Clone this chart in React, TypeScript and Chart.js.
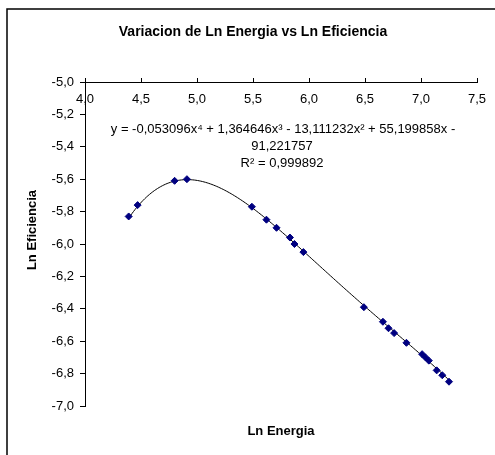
import React, { useEffect, useRef } from "react";
import { Chart, registerables } from "chart.js";

Chart.register(...registerables);

const TITLE = "Variacion de Ln Energia vs Ln Eficiencia";
const X_TITLE = "Ln Energia";
const Y_TITLE = "Ln Eficiencia";

const LN_ENERGIA = [4.39, 4.47, 4.8, 4.91, 5.49, 5.62, 5.71, 5.83, 5.87, 5.95, 6.49, 6.66, 6.71, 6.76, 6.87, 7.01, 7.04, 7.07, 7.14, 7.19, 7.25];
const LN_EFICIENCIA = [-5.83, -5.76, -5.61, -5.6, -5.77, -5.85, -5.9, -5.96, -6.0, -6.05, -6.39, -6.48, -6.52, -6.55, -6.61, -6.68, -6.7, -6.72, -6.78, -6.81, -6.85];

// polynomial trendline coefficients a0..a4 as printed on the chart
const TREND_COEFFS = [-91.221757, 55.199858, -13.111232, 1.364646, -0.053096];
const EQUATION_LINES = [
  "y = -0,053096x⁴ + 1,364646x³ - 13,111232x² + 55,199858x -",
  "91,221757",
  "R² = 0,999892",
];

const X_MIN = 4;
const X_MAX = 7.5;
const X_STEP = 0.5;
const Y_MIN = -7;
const Y_MAX = -5;
const Y_STEP = 0.2;

const FONT = "'Liberation Sans', Arial, Helvetica, sans-serif";
const fmt = (v: number) => Number(v).toFixed(1).replace(".", ",");

const decorPlugin = {
  id: "decor",
  beforeDraw(chart: any) {
    const ctx = chart.ctx;
    ctx.save();
    ctx.fillStyle = "#ffffff";
    ctx.fillRect(0, 0, chart.width, chart.height);
    ctx.restore();
  },
  beforeDatasetsDraw(chart: any) {
    const ctx = chart.ctx;
    const xs = chart.scales.x;
    const ys = chart.scales.y;
    const x0 = Math.min(...LN_ENERGIA);
    const x1 = Math.max(...LN_ENERGIA);
    const poly = (x: number) => TREND_COEFFS.reduce((s, c, i) => s + c * Math.pow(x, i), 0);
    ctx.save();
    ctx.strokeStyle = "#000000";
    ctx.lineWidth = 1;
    ctx.beginPath();
    const n = 200;
    for (let i = 0; i <= n; i++) {
      const x = x0 + ((x1 - x0) * i) / n;
      const px = xs.getPixelForValue(x);
      const py = ys.getPixelForValue(poly(x));
      if (i === 0) ctx.moveTo(px, py);
      else ctx.lineTo(px, py);
    }
    ctx.stroke();
    ctx.restore();
  },
  afterDraw(chart: any) {
    const ctx = chart.ctx;
    const xs = chart.scales.x;
    const area = chart.chartArea;
    ctx.save();
    // outer frame
    ctx.strokeStyle = "#000000";
    ctx.lineWidth = 1.5;
    ctx.strokeRect(7, 9, chart.width + 10, chart.height + 10);

    ctx.fillStyle = "#000000";
    ctx.textAlign = "center";
    ctx.textBaseline = "middle";
    // title
    ctx.font = `bold 14px ${FONT}`;
    ctx.fillText(TITLE, 253, 32);

    // x tick labels (below the axis line, which sits at the top)
    ctx.font = `13px ${FONT}`;
    xs.ticks.forEach((t: any) => {
      const px = xs.getPixelForValue(t.value);
      ctx.fillText(fmt(t.value), px, area.top + 17);
    });

    // x axis title
    ctx.font = `bold 13px ${FONT}`;
    ctx.fillText(X_TITLE, (area.left + area.right) / 2, 431);

    // y axis title
    ctx.save();
    ctx.translate(32, 230);
    ctx.rotate(-Math.PI / 2);
    ctx.fillText(Y_TITLE, 0, 0);
    ctx.restore();

    // equation
    ctx.font = `13px ${FONT}`;
    ctx.fillText(EQUATION_LINES[0], 283, 129);
    ctx.fillText(EQUATION_LINES[1], 282, 146);
    ctx.fillText(EQUATION_LINES[2], 282, 163);
    ctx.restore();
  },
};

export default function App() {
  const ref = useRef<HTMLCanvasElement | null>(null);
  useEffect(() => {
    if (!ref.current) return;
    const chart = new Chart(ref.current, {
      type: "scatter",
      data: {
        datasets: [
          {
            label: "Ln Eficiencia",
            data: LN_ENERGIA.map((x, i) => ({ x, y: LN_EFICIENCIA[i] })),
            pointStyle: "rectRot",
            pointRadius: 3.5,
            pointBorderWidth: 1,
            backgroundColor: "#000080",
            borderColor: "#000080",
            showLine: false,
          },
        ],
      },
      options: {
        animation: false,
        responsive: false,
        devicePixelRatio: 1,
        layout: { padding: { left: 0, top: 0, right: 18, bottom: 49 } },
        plugins: {
          legend: { display: false },
          title: { display: false },
          tooltip: { enabled: false },
        },
        scales: {
          x: {
            type: "linear",
            position: "top",
            min: X_MIN,
            max: X_MAX,
            ticks: { display: false, stepSize: X_STEP },
            grid: { drawOnChartArea: false, drawTicks: true, tickLength: 4, color: "#000000" },
            border: { display: true, color: "#000000", width: 1 },
            afterFit: (s: any) => {
              s.height = 82;
            },
          },
          y: {
            type: "linear",
            position: "left",
            min: Y_MIN,
            max: Y_MAX,
            ticks: {
              stepSize: Y_STEP,
              color: "#000000",
              padding: 6,
              font: { family: FONT, size: 13 },
              callback: (v: any) => fmt(v),
            },
            grid: { drawOnChartArea: false, drawTicks: true, tickLength: 5, color: "#000000" },
            border: { display: true, color: "#000000", width: 1 },
            afterFit: (s: any) => {
              s.width = 85;
            },
          },
        },
      },
      plugins: [decorPlugin],
    });
    return () => chart.destroy();
  }, []);
  return (
    <div style={{ position: "fixed", left: 0, top: 0, width: 495, height: 455 }}>
      <canvas ref={ref} width={495} height={455} style={{ width: 495, height: 455, display: "block" }} />
    </div>
  );
}
